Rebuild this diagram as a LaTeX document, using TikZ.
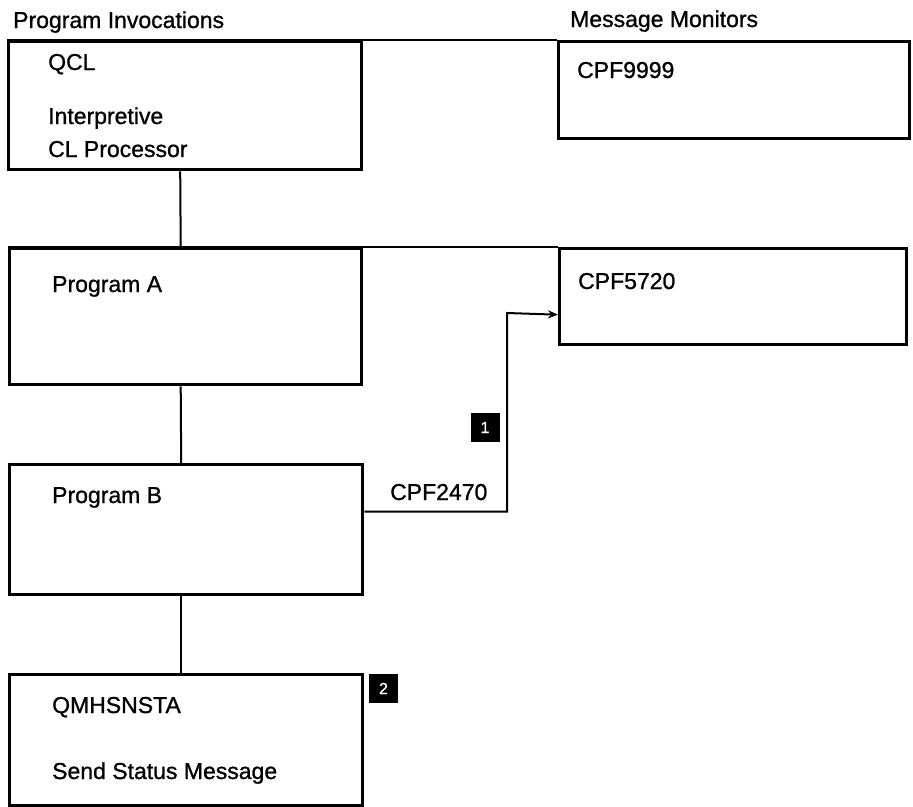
\documentclass[tikz,border=0pt]{standalone}
\usepackage{fontspec}
\setmainfont{Liberation Sans}[FakeBold=1]
\usetikzlibrary{arrows.meta}
\begin{document}
\begin{tikzpicture}[x=1pt,y=-1pt,
  frame/.style={draw, line width=3.4pt, rectangle, inner sep=0pt, anchor=north west},
  link/.style={line width=2pt},
  flow/.style={line width=2pt, -{Stealth[length=10pt,width=8pt]}},
  txt/.style={anchor=base west, inner sep=0pt, font=\fontsize{23}{27}\selectfont},
  badge/.style={fill=black, text=white, minimum size=29pt, inner sep=0pt,
                font=\fontsize{16}{18}\selectfont}]
  \useasboundingbox (0,0) rectangle (913,806);

  % column headings
  \node[txt] (hdrL) at (13,28) {Program Invocations};
  \node[txt] (hdrR) at (570,27) {Message Monitors};

  % program invocation stack
  \node[frame, minimum width=353pt, minimum height=128pt] (qcl)   at (7,40)  {};
  \node[frame, minimum width=352pt, minimum height=136pt] (proga) at (8,247) {};
  \node[frame, minimum width=353pt, minimum height=130pt] (progb) at (8,463) {};
  \node[frame, minimum width=353pt, minimum height=131pt] (qmh)   at (8,673) {};

  % message monitors
  \node[frame, minimum width=351pt, minimum height=97pt] (cpf9999) at (557,40)  {};
  \node[frame, minimum width=347pt, minimum height=96pt] (cpf5720) at (558,247) {};

  % box texts
  \node[txt] (tqcl)  at (48,70)  {QCL};
  \node[txt] (tint)  at (48,124) {Interpretive};
  \node[txt] (tclp)  at (48,157) {CL Processor};
  \node[txt] (tpa)   at (52,292) {Program A};
  \node[txt] (tpb)   at (52,503) {Program B};
  \node[txt] (tqmh)  at (52,713) {QMHSNSTA};
  \node[txt] (tsend) at (52,779) {Send Status Message};
  \node[txt] (t9999) at (577,78)  {CPF9999};
  \node[txt] (t5720) at (578,289) {CPF5720};

  % invocation chain, slightly left of the box centres
  \draw[link] ([xshift=-5pt]qcl.south)   -- ([xshift=-5pt]proga.north);
  \draw[link] ([xshift=-5pt]proga.south) -- ([xshift=-5pt]progb.north);
  \draw[link] ([xshift=-5pt]progb.south) -- ([xshift=-5pt]qmh.north);

  % monitor attachments
  \draw[link] (qcl.north west)   -- (cpf9999.north west);
  \draw[link] (proga.north west) -- (cpf5720.north west);

  % escalated message path
  \coordinate (k2) at (507,313);
  \draw[flow] ([yshift=18pt]progb.east) -| (k2) -- ([yshift=-18pt]cpf5720.west);
  \node[txt] (msg) at (390,500) {CPF2470};

  % reference markers
  \node[badge] (b1) at (485,427.5) {1};
  \node[badge] (b2) at (383.5,688.5) {2};
\end{tikzpicture}
\end{document}
